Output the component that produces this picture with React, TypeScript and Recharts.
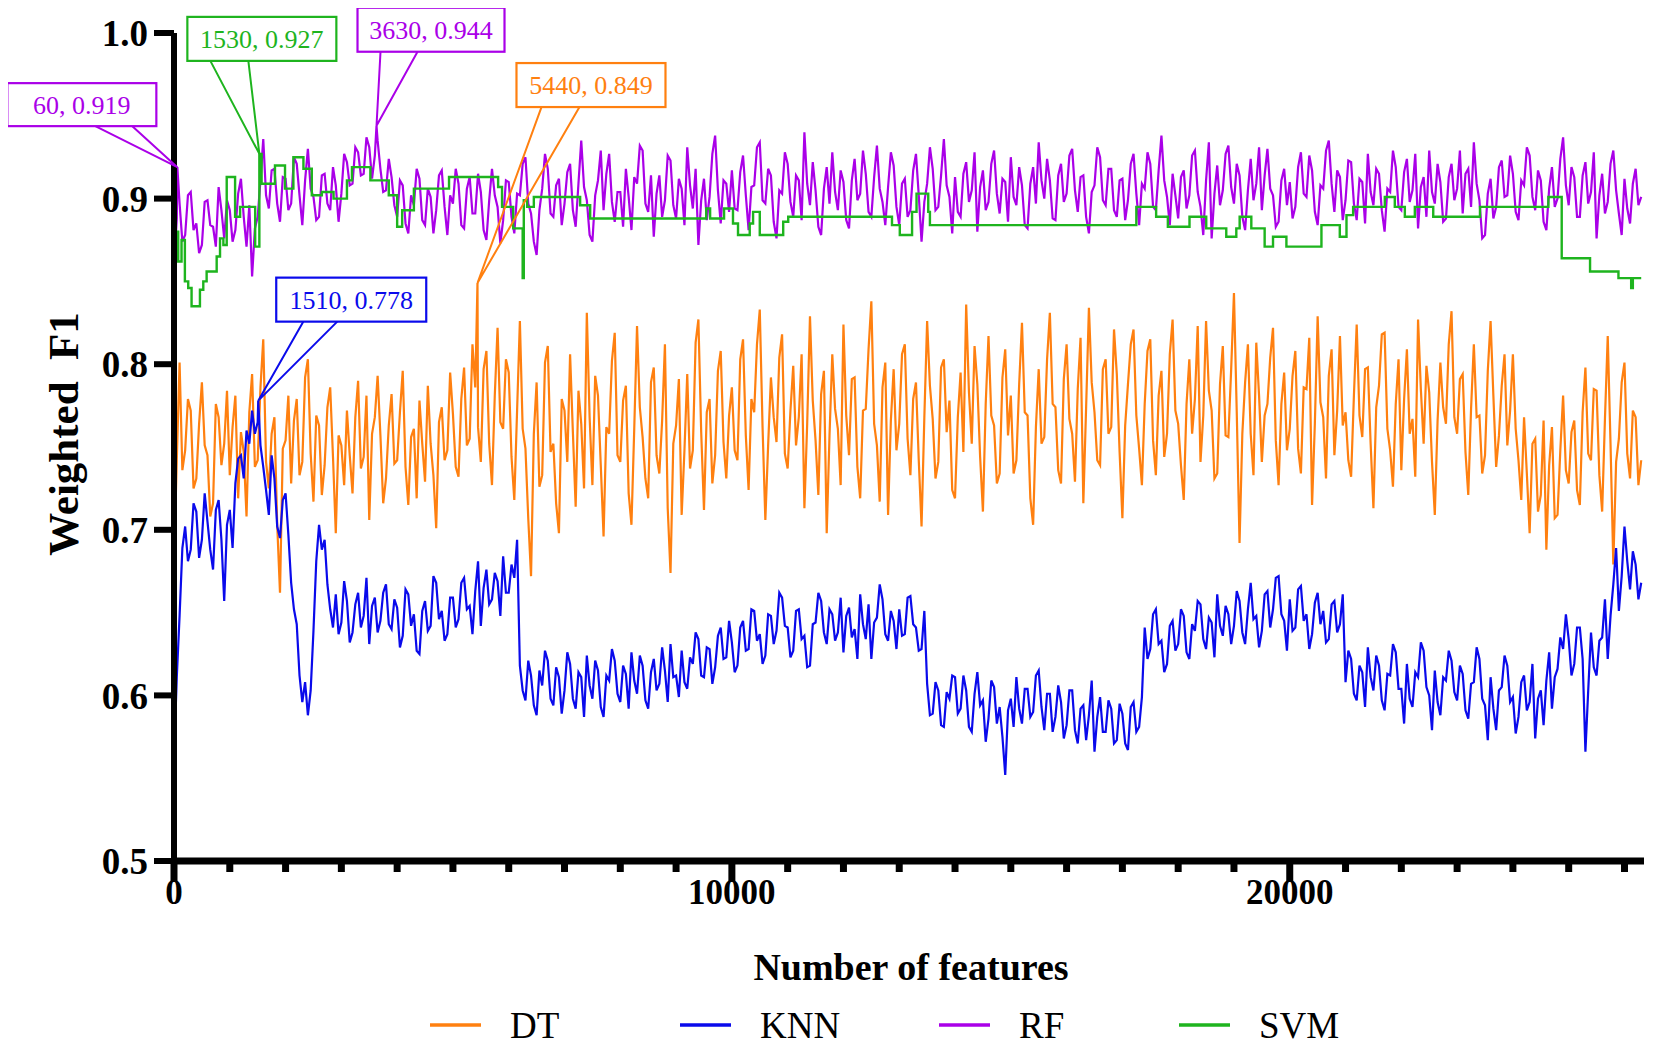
import React from 'react';
import { LineChart, Line, XAxis, YAxis, ReferenceDot } from 'recharts';

const W = 1646;
const H = 1040;
const FONT = "'Liberation Serif', 'Times New Roman', serif";

const STEP = 50;
const X_MAX = 26350;
const xTicks = [0, 1000, 2000, 3000, 4000, 5000, 6000, 7000, 8000, 9000, 10000, 11000, 12000, 13000, 14000, 15000, 16000, 17000, 18000, 19000, 20000, 21000, 22000, 23000, 24000, 25000, 26000];
const xLabelTicks = [0, 10000, 20000];
const yTicks = [0.5, 0.6, 0.7, 0.8, 0.9, 1.0];

const COLORS = { DT: '#FF8010', KNN: '#0A0AEB', RF: '#AA00E8', SVM: '#1EB41E' };

// Weighted F1 sampled every 50 features (0 .. 26300), one row = 1000 features
const DT = [
  .680, .742, .801, .736, .748, .779, .772, .725, .731, .764, .789, .751, .745, .708, .716, .776, .768, .739, .752, .784,
  .733, .762, .781, .719, .759, .747, .708, .771, .794, .738, .742, .786, .815, .741, .725, .758, .768, .703, .662, .749,
  .754, .781, .728, .766, .779, .733, .741, .792, .803, .746, .717, .769, .763, .721, .739, .774, .786, .744, .698, .757,
  .751, .727, .772, .745, .722, .768, .790, .737, .744, .781, .706, .758, .768, .793, .757, .716, .731, .763, .782, .740,
  .742, .771, .796, .738, .715, .756, .761, .719, .778, .752, .729, .787, .752, .733, .701, .765, .774, .742, .748, .795,
  .770, .738, .732, .779, .798, .751, .755, .812, .786, .762, .741, .797, .808, .752, .727, .781, .822, .765, .761, .803,
  .795, .744, .718, .772, .826, .761, .749, .707, .672, .758, .789, .726, .733, .801, .811, .747, .752, .716, .698, .779,
  .772, .741, .806, .759, .714, .784, .764, .725, .831, .768, .727, .793, .781, .739, .696, .762, .758, .802, .819, .745,
  .741, .778, .787, .722, .703, .761, .823, .774, .756, .731, .719, .789, .798, .745, .734, .766, .812, .713, .674, .752,
  .763, .791, .709, .748, .794, .737, .748, .813, .827, .759, .712, .771, .779, .728, .745, .796, .808, .753, .731, .769,
  .786, .748, .742, .803, .815, .757, .724, .779, .771, .812, .833, .762, .706, .751, .792, .768, .753, .804, .818, .746,
  .737, .772, .799, .751, .768, .806, .713, .764, .829, .778, .754, .721, .782, .796, .698, .757, .806, .773, .761, .727,
  .824, .769, .745, .791, .792, .738, .719, .772, .773, .809, .838, .764, .751, .717, .786, .801, .709, .766, .797, .748,
  .764, .806, .812, .755, .733, .779, .789, .742, .702, .768, .826, .787, .767, .731, .741, .798, .803, .759, .778, .724,
  .719, .768, .795, .747, .836, .783, .752, .811, .788, .744, .711, .776, .817, .769, .763, .728, .734, .792, .809, .757,
  .781, .734, .742, .788, .825, .771, .769, .719, .703, .762, .797, .752, .756, .803, .831, .776, .774, .736, .728, .791,
  .812, .767, .758, .729, .785, .816, .716, .774, .834, .789, .771, .742, .739, .797, .803, .758, .762, .821, .794, .747,
  .707, .763, .788, .812, .821, .769, .749, .727, .776, .808, .815, .754, .733, .781, .796, .744, .758, .806, .827, .772,
  .764, .739, .718, .776, .803, .758, .779, .823, .741, .769, .826, .784, .772, .731, .734, .788, .811, .757, .756, .797,
  .843, .771, .692, .758, .789, .812, .758, .733, .813, .781, .741, .769, .776, .804, .822, .754, .727, .776, .795, .748,
  .761, .793, .808, .749, .734, .786, .785, .816, .715, .764, .829, .777, .768, .731, .793, .809, .745, .772, .817, .763,
  .771, .742, .732, .781, .824, .769, .756, .797, .798, .752, .713, .774, .787, .818, .819, .761, .748, .726, .776, .803,
  .736, .779, .809, .758, .767, .732, .827, .785, .752, .799, .783, .741, .709, .766, .801, .774, .764, .812, .832, .768,
  .758, .791, .794, .747, .721, .773, .812, .768, .769, .734, .745, .796, .826, .781, .738, .757, .787, .806, .751, .772,
  .806, .761, .742, .718, .768, .734, .698, .752, .755, .711, .721, .766, .688, .739, .762, .707, .709, .748, .781, .736,
  .728, .759, .766, .724, .715, .771, .798, .746, .742, .785, .784, .733, .711, .767, .817, .752, .679, .741, .755, .789,
  .801, .746, .731, .772, .768, .727, .742,
];

const KNN = [
  .562, .611, .648, .689, .702, .681, .688, .716, .711, .683, .694, .722, .705, .688, .676, .712, .718, .694, .657, .703,
  .712, .689, .728, .743, .745, .731, .760, .752, .772, .758, .765, .751, .738, .724, .709, .745, .731, .702, .695, .718,
  .722, .697, .668, .652, .643, .612, .596, .608, .588, .603, .639, .681, .703, .688, .694, .667, .652, .641, .661, .637,
  .644, .669, .657, .632, .638, .655, .662, .641, .648, .671, .631, .654, .659, .638, .645, .662, .667, .643, .640, .658,
  .653, .629, .636, .664, .661, .642, .649, .627, .625, .651, .657, .639, .642, .672, .668, .646, .651, .633, .637, .659,
  .659, .641, .646, .668, .671, .652, .654, .637, .663, .681, .642, .665, .676, .655, .658, .674, .669, .648, .684, .662,
  .662, .679, .671, .694, .618, .603, .597, .621, .612, .594, .588, .615, .606, .627, .621, .598, .594, .617, .611, .589,
  .603, .626, .619, .598, .592, .614, .611, .587, .624, .606, .598, .621, .615, .593, .587, .612, .609, .628, .621, .601,
  .596, .618, .613, .592, .626, .609, .601, .624, .618, .597, .592, .614, .622, .603, .607, .629, .615, .596, .631, .611,
  .612, .599, .627, .608, .604, .623, .619, .638, .634, .612, .611, .629, .628, .607, .617, .636, .641, .622, .623, .645,
  .632, .614, .618, .641, .645, .627, .628, .652, .651, .633, .637, .619, .624, .649, .648, .631, .639, .662, .659, .642,
  .641, .623, .627, .651, .652, .634, .636, .617, .618, .643, .644, .662, .657, .638, .631, .652, .649, .633, .638, .659,
  .626, .648, .653, .635, .640, .622, .661, .643, .634, .655, .622, .644, .647, .667, .658, .637, .633, .651, .645, .628,
  .652, .636, .637, .659, .660, .643, .641, .627, .628, .651, .607, .588, .589, .608, .603, .582, .581, .602, .598, .612,
  .611, .589, .592, .612, .603, .581, .578, .601, .614, .594, .597, .572, .586, .609, .605, .583, .593, .575, .552, .591,
  .598, .581, .611, .592, .583, .604, .604, .587, .590, .612, .615, .593, .579, .601, .601, .578, .587, .606, .596, .574,
  .582, .603, .603, .579, .571, .592, .594, .573, .588, .609, .566, .587, .599, .578, .578, .597, .592, .571, .573, .595,
  .589, .571, .567, .593, .596, .578, .581, .599, .641, .622, .628, .649, .652, .631, .633, .614, .619, .642, .645, .627,
  .631, .652, .648, .626, .622, .643, .639, .657, .655, .634, .628, .647, .644, .623, .661, .642, .636, .654, .649, .631,
  .642, .663, .657, .638, .631, .652, .668, .646, .648, .629, .639, .661, .663, .641, .652, .671, .672, .649, .645, .627,
  .658, .639, .641, .664, .666, .645, .649, .628, .637, .656, .662, .643, .651, .632, .634, .655, .657, .638, .643, .661,
  .608, .627, .622, .601, .597, .618, .614, .593, .629, .611, .603, .624, .618, .597, .591, .613, .612, .631, .626, .604,
  .604, .583, .619, .598, .593, .614, .611, .632, .627, .605, .600, .579, .615, .596, .588, .611, .609, .627, .621, .602,
  .597, .618, .613, .591, .586, .607, .608, .629, .622, .598, .594, .573, .611, .592, .579, .603, .605, .624, .618, .596,
  .599, .577, .587, .608, .612, .591, .596, .619, .574, .598, .603, .582, .609, .626, .592, .611, .616, .635, .628, .649,
  .634, .612, .619, .641, .641, .622, .566, .603, .638, .617, .612, .633, .635, .658, .622, .648, .667, .689, .651, .672,
  .702, .681, .664, .687, .679, .658, .668,
];

const RF = [
  .858, .888, .897, .874, .878, .902, .904, .881, .885, .867, .872, .898, .899, .884, .883, .871, .907, .893, .876, .899,
  .893, .874, .881, .903, .912, .889, .871, .896, .853, .882, .889, .911, .936, .902, .894, .917, .918, .897, .886, .913,
  .912, .893, .897, .925, .921, .902, .884, .911, .930, .906, .901, .887, .889, .914, .915, .897, .893, .919, .908, .886,
  .903, .927, .922, .908, .909, .931, .928, .914, .915, .937, .931, .912, .926, .935, .918, .904, .905, .924, .913, .896,
  .889, .911, .908, .885, .879, .902, .896, .918, .912, .887, .884, .906, .901, .879, .893, .914, .917, .895, .878, .902,
  .897, .918, .909, .884, .882, .906, .913, .891, .891, .915, .904, .881, .875, .899, .918, .902, .895, .873, .887, .911,
  .910, .889, .879, .903, .902, .921, .925, .897, .891, .874, .866, .893, .906, .927, .918, .891, .889, .908, .912, .884,
  .897, .916, .921, .893, .883, .909, .935, .907, .899, .878, .874, .902, .911, .929, .893, .915, .927, .898, .886, .904,
  .904, .883, .918, .901, .881, .913, .909, .932, .929, .897, .892, .914, .877, .903, .914, .889, .899, .926, .923, .896,
  .888, .912, .906, .884, .931, .908, .894, .918, .872, .899, .912, .887, .901, .927, .938, .905, .885, .911, .909, .892,
  .917, .894, .893, .916, .926, .902, .881, .907, .908, .931, .934, .899, .897, .918, .914, .886, .876, .905, .903, .928,
  .921, .898, .889, .914, .911, .887, .940, .909, .896, .922, .905, .883, .878, .906, .919, .897, .928, .904, .893, .917,
  .910, .887, .882, .911, .924, .899, .903, .929, .915, .892, .889, .913, .932, .906, .898, .884, .907, .928, .920, .895,
  .884, .909, .912, .889, .893, .917, .927, .902, .874, .898, .909, .931, .918, .893, .895, .914, .936, .908, .901, .879,
  .913, .892, .889, .915, .922, .898, .905, .928, .880, .907, .917, .893, .898, .921, .929, .903, .891, .912, .910, .886,
  .925, .901, .896, .919, .908, .884, .882, .909, .919, .897, .934, .911, .900, .924, .911, .888, .887, .914, .921, .898,
  .903, .926, .930, .905, .892, .913, .914, .889, .879, .904, .908, .931, .925, .899, .896, .918, .918, .893, .889, .911,
  .912, .887, .899, .921, .927, .903, .884, .909, .906, .928, .921, .895, .893, .917, .938, .911, .901, .884, .915, .902,
  .888, .913, .917, .894, .902, .926, .929, .904, .895, .878, .911, .934, .876, .903, .920, .896, .905, .927, .932, .907,
  .897, .921, .914, .889, .881, .905, .924, .899, .909, .931, .893, .914, .930, .906, .902, .883, .886, .911, .918, .896,
  .910, .888, .895, .919, .928, .903, .901, .926, .917, .892, .884, .908, .906, .929, .935, .909, .892, .917, .913, .887,
  .899, .923, .922, .897, .887, .912, .910, .885, .927, .904, .896, .918, .915, .893, .880, .906, .904, .929, .919, .895,
  .893, .916, .924, .898, .905, .927, .882, .907, .913, .889, .929, .904, .897, .921, .910, .886, .888, .913, .921, .899,
  .906, .929, .891, .915, .918, .895, .934, .909, .899, .876, .878, .903, .912, .888, .895, .919, .923, .901, .902, .926,
  .915, .892, .887, .911, .908, .931, .926, .901, .893, .917, .911, .886, .881, .906, .919, .895, .900, .924, .937, .908,
  .896, .919, .913, .889, .889, .914, .922, .897, .904, .928, .876, .902, .915, .891, .898, .921, .929, .905, .891, .878,
  .912, .894, .885, .909, .918, .896, .901,
];

// SVM changes in steps: feature count where each level starts, and its weighted F1
const SVM_X = [
  0, 20, 75, 135, 195, 255, 315, 465, 525, 585, 765, 825, 885, 945, 1095, 1185, 1455, 1530, 1570, 1810,
  1990, 2140, 2320, 2470, 2650, 2860, 3100, 3190, 3520, 3850, 4000, 4090, 4300, 4930, 5810, 5880, 6080, 6250, 6270, 6330,
  6450, 7280, 7460, 9540, 9610, 9860, 10020, 10110, 10320, 10380, 10500, 10920, 11010, 12870, 13010, 13230, 13310, 13520, 13550, 17250,
  17605, 17815, 18203, 18503, 18862, 19042, 19102, 19311, 19550, 19700, 19940, 20568, 20897, 21017, 21136, 21704, 21883, 22063, 22242, 22572,
  23410, 24636, 24875, 25383, 25892, 26120, 26150, 26300,
];
const SVM_Y = [
  .790, .880, .862, .875, .850, .846, .835, .845, .850, .856, .865, .876, .872, .913, .889, .895, .871, .927, .909, .920,
  .906, .925, .918, .902, .904, .900, .911, .919, .911, .902, .883, .893, .906, .913, .907, .895, .882, .852, .899, .895,
  .901, .896, .888, .894, .888, .894, .885, .878, .885, .892, .878, .886, .889, .884, .878, .892, .903, .892, .884, .895,
  .889, .883, .889, .882, .877, .882, .889, .882, .871, .877, .871, .884, .877, .890, .895, .901, .895, .889, .895, .889,
  .895, .901, .864, .856, .852, .846, .852, .852,
];

// Highlighted maxima: [series, features, weighted F1]
const PEAKS: [keyof typeof COLORS, number, number][] = [
  ['RF', 60, 0.919],
  ['SVM', 1530, 0.927],
  ['RF', 3630, 0.944],
  ['DT', 5440, 0.849],
  ['KNN', 1510, 0.778],
];

// callout box geometry relative to the highlighted point: [left, right, top, bottom], leader feet
const CALLOUT_STYLE: Record<string, { box: number[]; legs: number[] }> = {
  'RF-60': { box: [-170, -21, -84, -41], legs: [-82, -45] },
  'SVM-1530': { box: [-72, 77, -137, -93], legs: [-49, -11] },
  'RF-3630': { box: [-19, 128, -118, -74], legs: [4, 41] },
  'DT-5440': { box: [39, 188, -220, -176], legs: [64, 102] },
  'KNN-1510': { box: [18, 168, -123, -79], legs: [45, 79] },
};

const LEGEND_ITEMS: { key: keyof typeof COLORS; x: number }[] = [
  { key: 'DT', x: 422 },
  { key: 'KNN', x: 672 },
  { key: 'RF', x: 931 },
  { key: 'SVM', x: 1171 },
];

function buildSeries(values: number[], name: string) {
  const pts = values.map((v, i) => ({ x: i * STEP, y: v }));
  PEAKS.filter((p) => p[0] === name && p[1] % STEP !== 0).forEach((p) => pts.push({ x: p[1], y: p[2] }));
  pts.sort((a, b) => a.x - b.x);
  return pts;
}

const dtData = buildSeries(DT, 'DT');
const knnData = buildSeries(KNN, 'KNN');
const rfData = buildSeries(RF, 'RF');
const svmData = SVM_X.map((x, i) => ({ x, y: SVM_Y[i] }));

function XTick(props: any) {
  const { x, y, payload } = props;
  const major = xLabelTicks.includes(payload.value);
  return (
    <g>
      <line x1={x} x2={x} y1={y} y2={y + (major ? 21 : 11)} stroke="#000" strokeWidth={7} />
      {major && (
        <text x={x} y={y + 43} textAnchor="middle" fontSize={35} fontWeight="bold" fontFamily={FONT} fill="#000">
          {payload.value}
        </text>
      )}
    </g>
  );
}

function Callout(props: any) {
  const { cx, cy, color, text, style } = props;
  if (cx == null || cy == null) return null;
  const [l, r, t, b] = style.box;
  const [a, c] = style.legs;
  return (
    <g>
      <polyline
        points={`${cx + a},${cy + b} ${cx},${cy} ${cx + c},${cy + b}`}
        fill="none"
        stroke={color}
        strokeWidth={2}
        strokeLinejoin="miter"
      />
      <rect x={cx + l} y={cy + t} width={r - l} height={b - t} fill="#fff" stroke={color} strokeWidth={2.2} />
      <text x={cx + (l + r) / 2} y={cy + (t + b) / 2 + 9} textAnchor="middle" fontSize={26} fontFamily={FONT} fill={color}>
        {text}
      </text>
    </g>
  );
}

export default function App() {
  return (
    <div style={{ position: 'relative', width: W, height: H, background: '#fff' }}>
      <LineChart width={W} height={H} margin={{ top: 25, right: 10, bottom: 127, left: 0 }}>
        <XAxis
          dataKey="x"
          type="number"
          domain={[0, X_MAX]}
          ticks={xTicks}
          interval={0}
          tickLine={false}
          tickSize={0}
          tickMargin={0}
          height={60}
          axisLine={{ stroke: '#000', strokeWidth: 7 }}
          tick={<XTick />}
          allowDataOverflow
        />
        <YAxis
          type="number"
          domain={[0.5, 1.0]}
          ticks={yTicks}
          interval={0}
          width={166}
          tickFormatter={(v: number) => v.toFixed(1)}
          axisLine={{ stroke: '#000', strokeWidth: 6 }}
          tickLine={{ stroke: '#000', strokeWidth: 6 }}
          tickSize={20}
          tickMargin={6}
          tick={{ fontSize: 37, fontWeight: 'bold', fill: '#000', fontFamily: FONT }}
        />
        <Line data={dtData} dataKey="y" type="linear" stroke={COLORS.DT} strokeWidth={2.2} dot={false} activeDot={false} isAnimationActive={false} />
        <Line data={knnData} dataKey="y" type="linear" stroke={COLORS.KNN} strokeWidth={2.2} dot={false} activeDot={false} isAnimationActive={false} />
        <Line data={rfData} dataKey="y" type="linear" stroke={COLORS.RF} strokeWidth={2.2} dot={false} activeDot={false} isAnimationActive={false} />
        <Line data={svmData} dataKey="y" type="stepAfter" stroke={COLORS.SVM} strokeWidth={2.4} dot={false} activeDot={false} isAnimationActive={false} />
        {PEAKS.map(([name, x, y]) => (
          <ReferenceDot
            key={`${name}-${x}`}
            x={x}
            y={y}
            r={0}
            ifOverflow="visible"
            shape={(p: any) => (
              <Callout
                cx={p.cx}
                cy={p.cy}
                color={COLORS[name]}
                text={`${x}, ${y.toFixed(3)}`}
                style={CALLOUT_STYLE[`${name}-${x}`]}
              />
            )}
          />
        ))}
      </LineChart>
      <svg width={W} height={H} style={{ position: 'absolute', left: 0, top: 0, pointerEvents: 'none' }}>
        <text
          transform="translate(70, 426) rotate(-90)"
          textAnchor="middle"
          fontSize={43}
          fontWeight="bold"
          fontFamily={FONT}
          fill="#000"
        >
          {'Weighted\u00A0 F1'}
        </text>
        <text x={903} y={972} textAnchor="middle" fontSize={38} fontWeight="bold" fontFamily={FONT} fill="#000">
          Number of features
        </text>
        {LEGEND_ITEMS.map((it) => (
          <g key={it.key}>
            <line x1={it.x} x2={it.x + 51} y1={1017} y2={1017} stroke={COLORS[it.key]} strokeWidth={3.5} />
            <text x={it.x + 80} y={1030} fontSize={37} fontFamily={FONT} fill="#000">
              {it.key}
            </text>
          </g>
        ))}
      </svg>
    </div>
  );
}
